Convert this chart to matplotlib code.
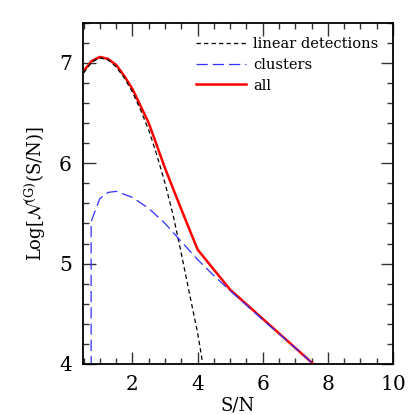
import numpy as np
import matplotlib
matplotlib.use('Agg')
import matplotlib.pyplot as plt
from matplotlib.ticker import MultipleLocator

plt.rcParams['font.family'] = ['DejaVu Serif']
plt.rcParams['mathtext.fontset'] = 'dejavuserif'

# linear detections (black short dashes)
lin_x = [0.5, 0.75, 1.0, 1.25, 1.5, 1.75, 2.0, 2.25, 2.5, 2.75, 3.0, 3.25, 3.5, 3.75, 4.0, 4.25]
lin_y = [6.90, 7.01, 7.05, 7.03, 6.96, 6.85, 6.71, 6.53, 6.33, 6.08, 5.80, 5.48, 5.10, 4.70, 4.31, 3.82]

# clusters (blue long dashes)
clu_x = [0.73, 0.73, 1.0, 1.25, 1.5, 2.0, 2.5, 3.0, 3.5, 4.0, 4.5, 5.0, 6.0, 7.0, 8.0]
clu_y = [3.0, 5.42, 5.65, 5.71, 5.72, 5.66, 5.55, 5.40, 5.22, 5.04, 4.88, 4.73, 4.44, 4.16, 3.87]

# all (red solid)
all_x = [0.5, 0.75, 1.0, 1.25, 1.5, 1.75, 2.0, 2.5, 3.0, 3.5, 4.0, 5.0, 6.0, 7.0, 8.0]
all_y = [6.92, 7.02, 7.06, 7.04, 6.98, 6.87, 6.74, 6.40, 5.95, 5.54, 5.14, 4.74, 4.45, 4.16, 3.87]

fig = plt.figure(figsize=(4.15, 4.15), dpi=100)
ax = fig.add_axes([0.2, 0.123, 0.747, 0.822])

# red underneath, dashed curves drawn on top as in the original
l_all, = ax.plot(all_x, all_y, color='#ff0000', lw=1.8, label='all')
l_lin, = ax.plot(lin_x, lin_y, color='black', lw=0.9, dashes=(3.5, 2.5), label='linear detections')
l_clu, = ax.plot(clu_x, clu_y, color='#3030ff', lw=0.9, dashes=(9, 4), label='clusters')

ax.set_xlim(0.48, 10)
ax.set_ylim(4, 7.4)
ax.xaxis.set_major_locator(MultipleLocator(2))
ax.xaxis.set_minor_locator(MultipleLocator(0.5))
ax.yaxis.set_major_locator(MultipleLocator(1))
ax.yaxis.set_minor_locator(MultipleLocator(0.2))
ax.tick_params(which='both', direction='in', top=True, right=True, width=1.0, color='#333333')
ax.tick_params(which='major', length=9, labelsize=14.5, pad=8)
ax.tick_params(which='minor', length=4.5)
for s in ax.spines.values():
    s.set_linewidth(1.3)

ax.set_xlabel('S/N', fontsize=13, labelpad=2)
ax.set_ylabel(r'Log$[\mathcal{N}^{(\mathrm{G})}$(S/N)$]$', fontsize=13, labelpad=8)

ax.legend(handles=[l_lin, l_clu, l_all], loc='upper right', frameon=False, fontsize=10.5,
          handlelength=3.4, handletextpad=0.5, labelspacing=0.45, borderaxespad=0.6)

fig.savefig('out.png', dpi=100)
